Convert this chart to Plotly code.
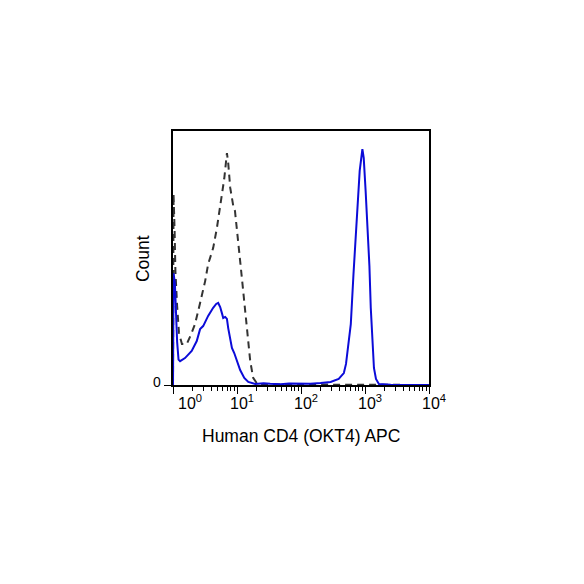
import plotly.graph_objects as go

# stained sample (solid blue) - fluorescence intensity vs count
stained_fl = [1.0, 1.02, 1.07, 1.11, 1.16, 1.22, 1.29, 1.54, 1.96, 2.35, 2.65, 2.96, 3.54, 4.24,
              4.73, 5.08, 5.46, 5.81, 6.09, 6.54, 6.96, 7.29, 7.84, 8.33, 9.05, 10.1, 11.2, 13.0,
              15.0, 19.3, 26, 33, 40, 48, 65, 98, 140, 203, 290, 388, 467, 505, 550, 600, 661,
              760, 826, 910, 955, 1023, 1094, 1172, 1231, 1328, 1380, 1484, 1650, 2520, 10000]
stained_count = [0, 44, 40, 29, 17, 10, 9.4, 10.6, 13.4, 17.3, 22, 23.2, 27.2, 30.4,
                 31.9, 32.3, 30.7, 28.3, 26.4, 26.8, 26, 22.4, 17.3, 14.6, 12.6, 8.7, 5.9, 2.8,
                 1.2, 0.4, 0.7, 0.5, 0.4, 0.3, 0.6, 0.4, 0.5, 0.8, 1.2, 2.4, 4.7, 8.3, 15.4, 24, 43.7,
                 69.7, 84.3, 92.9, 89.4, 76.4, 63.4, 46.9, 30.3, 13.4, 6.7, 2.4, 0.4, 0.1, 0]

# isotype / unstained control (dashed)
control_fl = [1.0, 1.02, 1.06, 1.09, 1.16, 1.24, 1.38, 1.64, 1.92, 2.21, 2.65, 3.18, 3.54, 4.24,
              4.85, 5.46, 5.81, 6.31, 6.96, 7.29, 7.84, 8.74, 9.3, 10.4, 11.2, 12.5, 14.3, 16.1,
              17.9, 20.8, 50, 98, 300, 600, 1000, 1500, 10000]
control_count = [0, 75.2, 60.6, 44.9, 31.1, 20.5, 16.1, 16.1, 20, 24, 32.3, 40.9, 47.6, 53.9,
                 61.8, 70.5, 75.2, 81.1, 91.3, 87.4, 77.6, 70.5, 68.5, 57.9, 48.8, 37, 21.3, 9.4,
                 2.8, 0.4, 0.2, 0.2, 0.3, 0.3, 0.3, 0.1, 0]

decades = [0, 1, 2, 3, 4]
decade_shift = [3, -9, -9, -9, -9]

fig = go.Figure()

fig.add_trace(go.Scatter(x=control_fl, y=control_count, mode='lines',
                         line=dict(color='#333333', width=2, dash='7px,5px'),
                         hoverinfo='skip'))
fig.add_trace(go.Scatter(x=stained_fl, y=stained_count, mode='lines',
                         line=dict(color='#0b0bd8', width=2),
                         hoverinfo='skip'))

annotations = []
for k, shift in zip(decades, decade_shift):
    annotations.append(dict(x=k, y=0, xref='x', yref='paper', xanchor='left', yanchor='top',
                            xshift=shift, yshift=-5, showarrow=False,
                            text='10<sup>%d</sup>' % k,
                            font=dict(size=16, color='black')))

annotations.append(dict(x=0.5, y=-0.2, xref='paper', yref='paper', xanchor='center',
                        yanchor='middle', showarrow=False, text='Human CD4 (OKT4) APC',
                        font=dict(size=17.5, color='black')))
annotations.append(dict(x=-0.117, y=0.496, xref='paper', yref='paper', xanchor='center',
                        yanchor='middle', showarrow=False, text='Count', textangle=-90,
                        font=dict(size=17.5, color='black')))
annotations.append(dict(x=0, y=0, xref='paper', yref='y', xanchor='right', yanchor='middle',
                        xshift=-10, yshift=3, showarrow=False, text='0',
                        font=dict(size=14, color='black')))

fig.update_layout(
    width=584, height=584,
    margin=dict(l=165, r=163, t=123, b=207),
    paper_bgcolor='white', plot_bgcolor='white',
    showlegend=False,
    font=dict(family='Liberation Sans, Arial, sans-serif', color='black'),
    annotations=annotations,
    xaxis=dict(type='log', range=[0, 4], showgrid=False, zeroline=False,
               showline=True, mirror=True, linecolor='black', linewidth=1.5,
               ticks='outside', ticklen=7, tickwidth=1.2, tickcolor='black',
               dtick=1, showticklabels=False,
               minor=dict(dtick='D1', ticks='outside', ticklen=4, tickwidth=1,
                          tickcolor='black', showgrid=False)),
    yaxis=dict(range=[0, 100], showgrid=False, zeroline=False,
               showline=True, mirror=True, linecolor='black', linewidth=1.5,
               ticks='outside', ticklen=7, tickwidth=1.2, tickcolor='black',
               tickvals=[0], showticklabels=False),
)

fig.write_html("out.html")
